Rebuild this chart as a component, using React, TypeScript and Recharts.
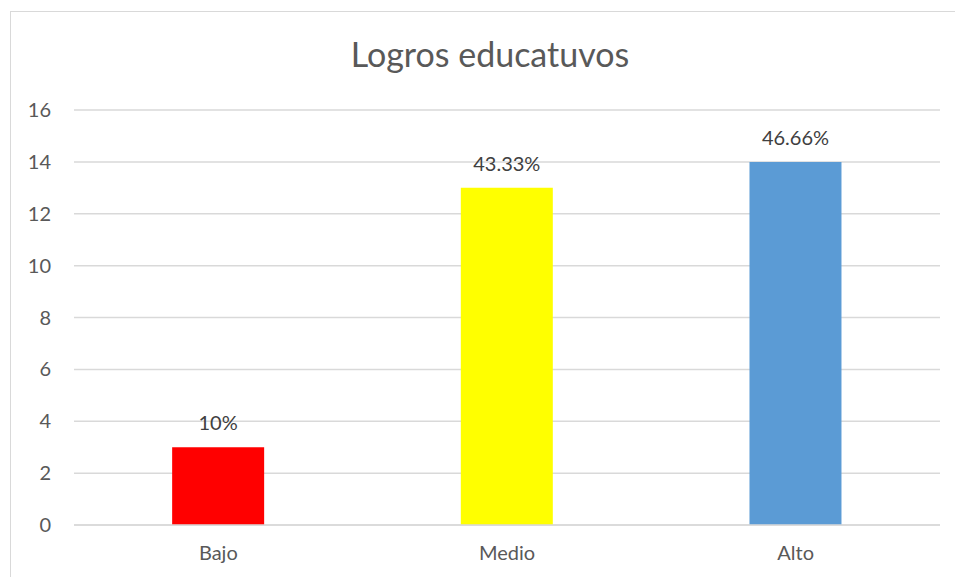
import React from 'react';
import { BarChart, Bar, XAxis, YAxis, CartesianGrid, Cell, LabelList } from 'recharts';

// Niveles de logro y cantidad de estudiantes
const categories = ['Bajo', 'Medio', 'Alto'];
const counts = [3, 13, 14];
const percentLabels = ['10%', '43.33%', '46.66%'];
const barColors = ['#FF0000', '#FFFF00', '#5B9BD5'];
const yTicks = [0, 2, 4, 6, 8, 10, 12, 14, 16];

const data = categories.map((name, i) => ({ name, value: counts[i], label: percentLabels[i] }));

const FONT = 'Lato, "Open Sans", sans-serif';

export default function App() {
  return (
    <div style={{ position: 'absolute', left: 0, top: 0, width: 955, height: 577, overflow: 'hidden', background: '#fff', fontFamily: FONT }}>
      <div
        style={{
          position: 'absolute',
          left: 10,
          top: 11,
          width: 960,
          height: 590,
          border: '1px solid #d9d9d9',
          boxSizing: 'border-box',
        }}
      />
      <div
        style={{
          position: 'absolute',
          left: 0,
          top: 34,
          width: 980,
          textAlign: 'center',
          fontSize: 34,
          color: '#595959',
          lineHeight: '40px',
        }}
      >
        Logros educatuvos
      </div>
      <div style={{ position: 'absolute', left: 0, top: 0 }}>
        <BarChart width={955} height={577} data={data} margin={{ top: 110, right: 15, left: 0, bottom: 0 }} barCategoryGap="34%">
          <CartesianGrid vertical={false} stroke="#d9d9d9" strokeWidth={1.5} />
          <XAxis
            dataKey="name"
            height={52}
            axisLine={{ stroke: '#d9d9d9', strokeWidth: 1.5 }}
            tickLine={false}
            tickSize={0}
            tickMargin={21}
            tick={{ fill: '#595959', fontSize: 20, fontFamily: FONT }}
          />
          <YAxis
            width={74}
            domain={[0, 16]}
            ticks={yTicks}
            axisLine={false}
            tickLine={false}
            tickSize={0}
            tickMargin={23}
            tick={{ fill: '#595959', fontSize: 20, fontFamily: FONT }}
          />
          <Bar dataKey="value" isAnimationActive={false}>
            {data.map((d, i) => (
              <Cell key={d.name} fill={barColors[i]} />
            ))}
            <LabelList dataKey="label" position="top" offset={17} fill="#404040" fontSize={20} fontFamily={FONT} />
          </Bar>
        </BarChart>
      </div>
    </div>
  );
}
